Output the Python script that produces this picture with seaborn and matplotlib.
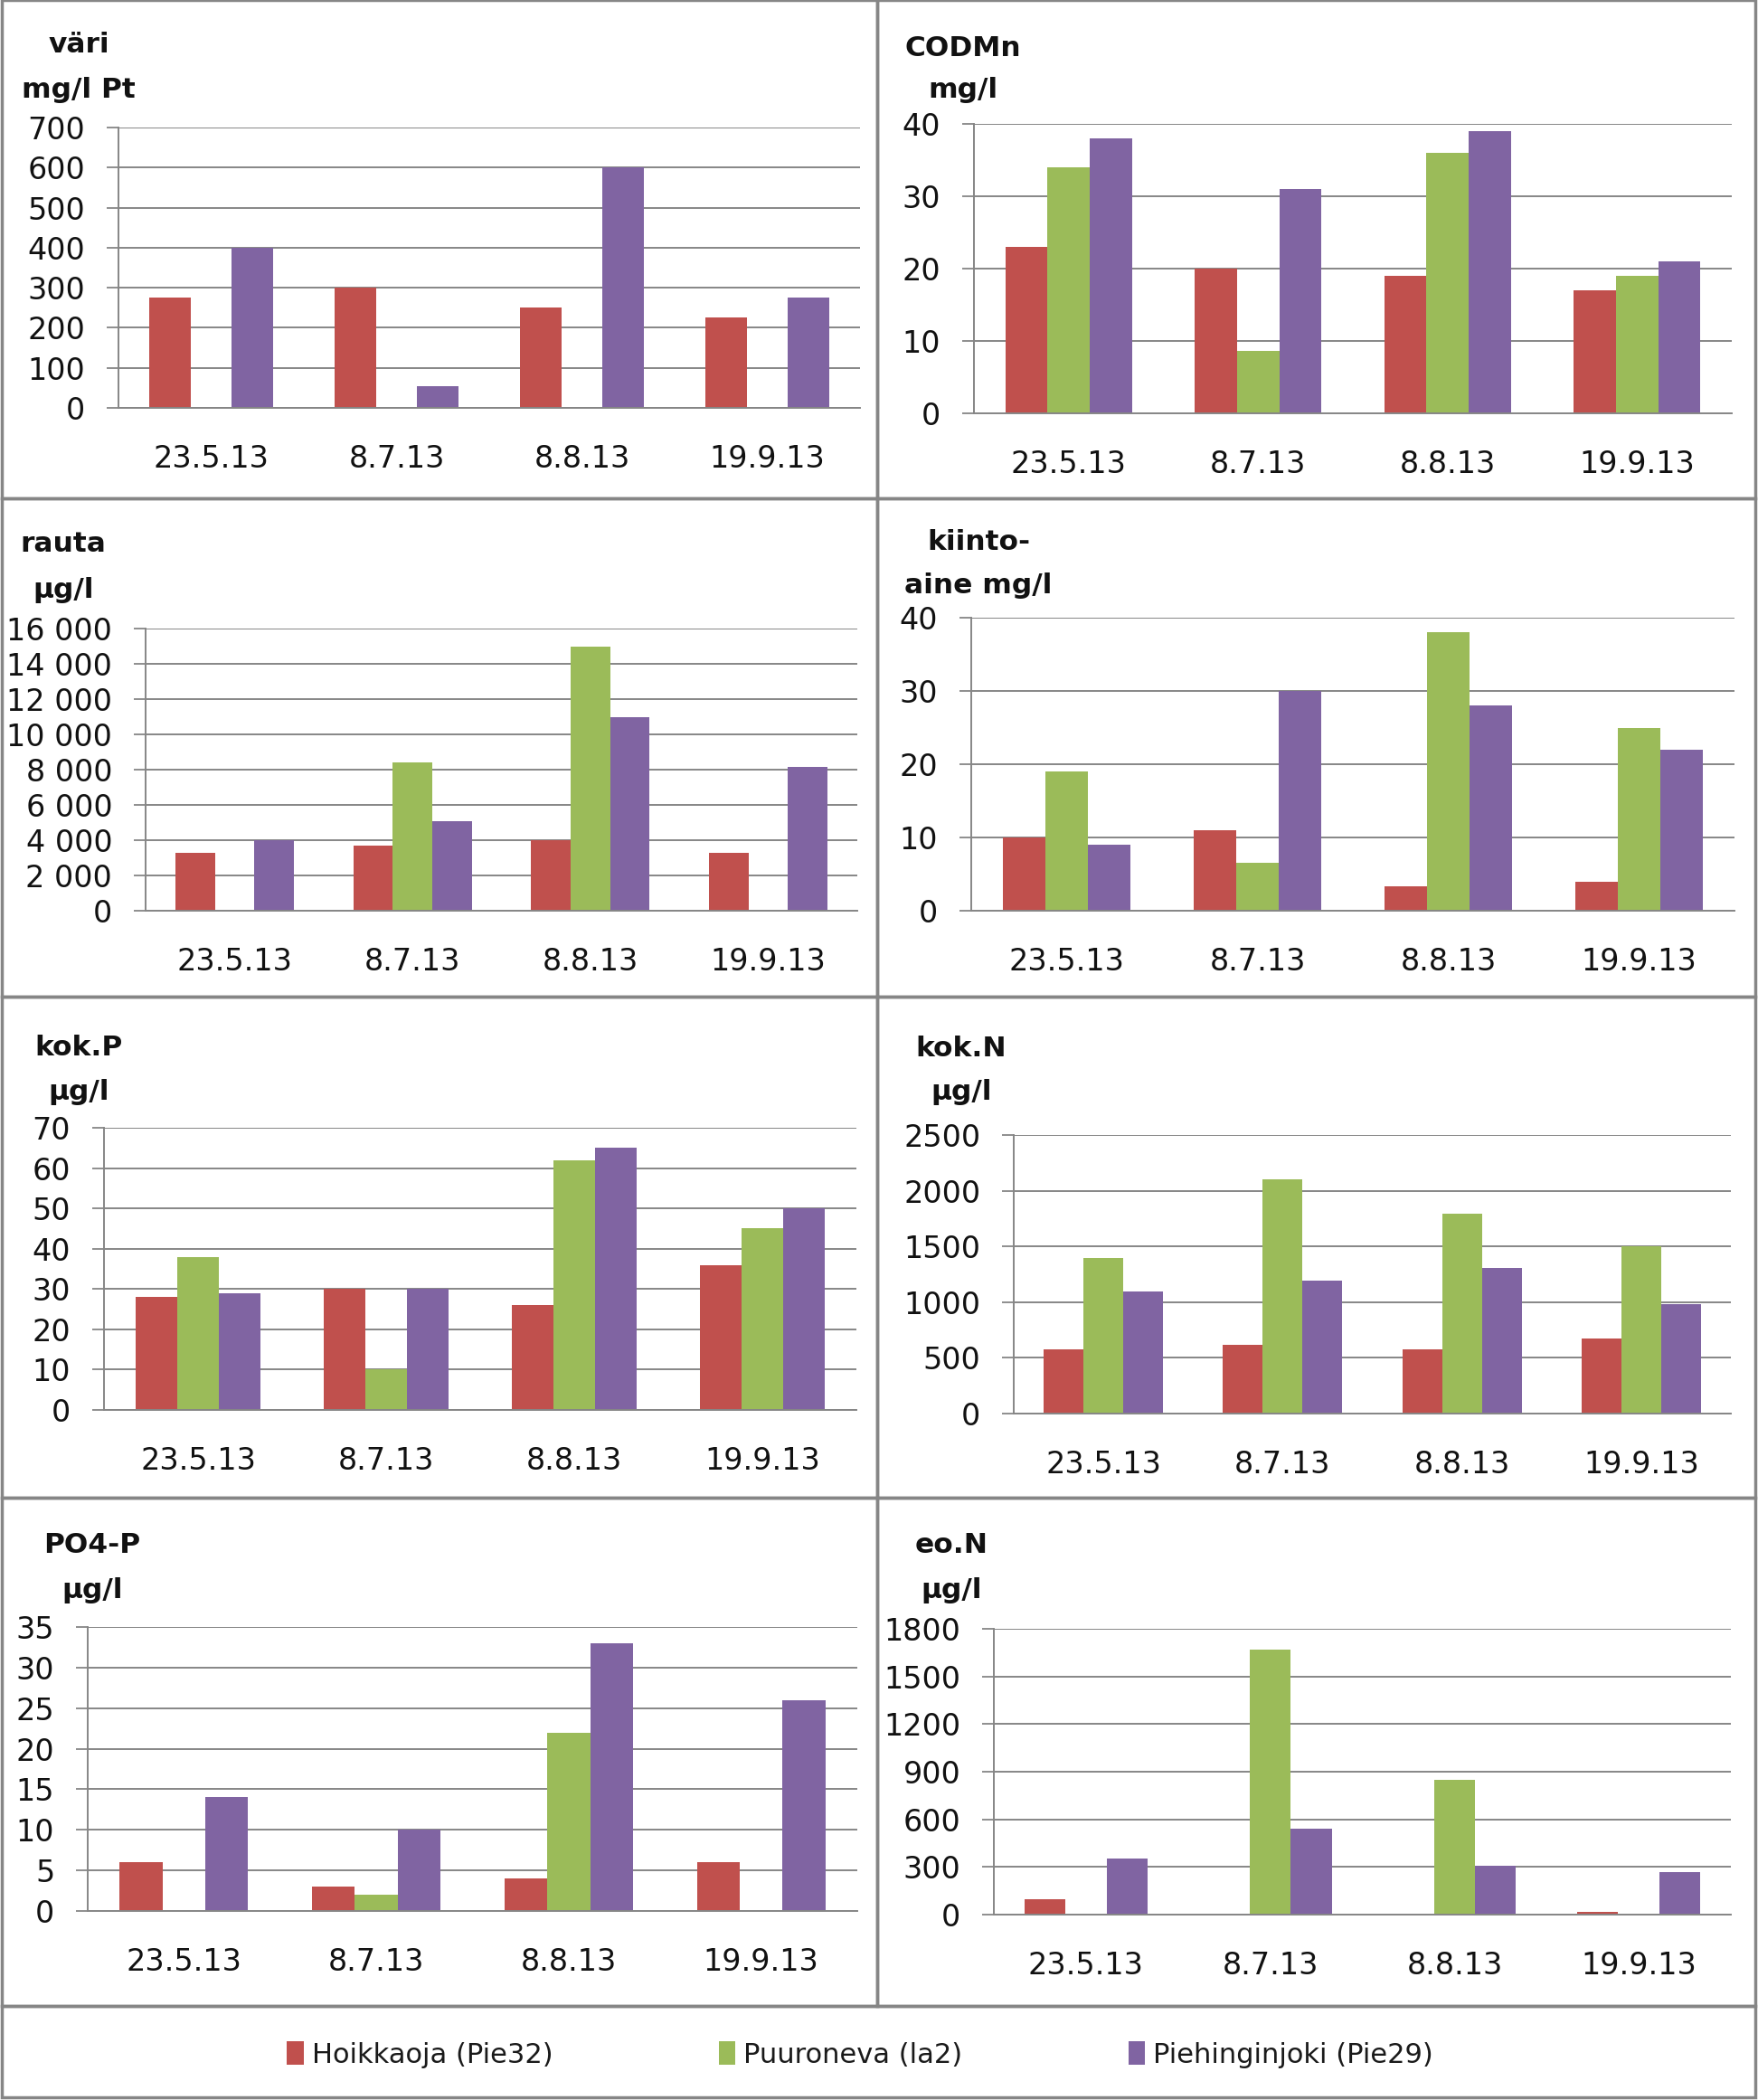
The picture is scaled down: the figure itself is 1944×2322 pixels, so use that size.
import numpy as np
import pandas as pd
import matplotlib
matplotlib.use("Agg")
import matplotlib.pyplot as plt
import seaborn as sns
from matplotlib.patches import Rectangle, Patch
from matplotlib.ticker import FuncFormatter

# ---------------- data ----------------
dates = ["23.5.13", "8.7.13", "8.8.13", "19.9.13"]
sites = ["Hoikkaoja (Pie32)", "Puuroneva (la2)", "Piehinginjoki (Pie29)"]
colors = ["#C0504D", "#9BBB59", "#8064A2"]
nan = np.nan

vari_hoikkaoja = [275, 300, 250, 225]
vari_puuroneva = [nan, nan, nan, nan]
vari_piehinginjoki = [400, 55, 600, 275]

codmn_hoikkaoja = [23, 20, 19, 17]
codmn_puuroneva = [34, 8.6, 36, 19]
codmn_piehinginjoki = [38, 31, 39, 21]

rauta_hoikkaoja = [3300, 3700, 4000, 3300]
rauta_puuroneva = [nan, 8400, 15000, nan]
rauta_piehinginjoki = [4000, 5100, 11000, 8150]

kiinto_hoikkaoja = [10, 11, 3.3, 4]
kiinto_puuroneva = [19, 6.5, 38, 25]
kiinto_piehinginjoki = [9, 30, 28, 22]

kokp_hoikkaoja = [28, 30, 26, 36]
kokp_puuroneva = [38, 10, 62, 45]
kokp_piehinginjoki = [29, 30, 65, 50]

kokn_hoikkaoja = [575, 620, 575, 670]
kokn_puuroneva = [1400, 2100, 1790, 1500]
kokn_piehinginjoki = [1095, 1190, 1305, 980]

po4_hoikkaoja = [6, 3, 4, 6]
po4_puuroneva = [nan, 2, 22, nan]
po4_piehinginjoki = [14, 10, 33, 26]

eon_hoikkaoja = [95, nan, nan, 15]
eon_puuroneva = [nan, 1670, 850, nan]
eon_piehinginjoki = [355, 540, 310, 265]

titles = [("väri", "mg/l Pt"), ("CODMn", "mg/l"), ("rauta", "µg/l"), ("kiinto-", "aine mg/l"),
          ("kok.P", "µg/l"), ("kok.N", "µg/l"), ("PO4-P", "µg/l"), ("eo.N", "µg/l")]
ymax = [700, 40, 16000, 40, 70, 2500, 35, 1800]
ystep = [100, 10, 2000, 10, 10, 500, 5, 300]
series = [
    (vari_hoikkaoja, vari_puuroneva, vari_piehinginjoki),
    (codmn_hoikkaoja, codmn_puuroneva, codmn_piehinginjoki),
    (rauta_hoikkaoja, rauta_puuroneva, rauta_piehinginjoki),
    (kiinto_hoikkaoja, kiinto_puuroneva, kiinto_piehinginjoki),
    (kokp_hoikkaoja, kokp_puuroneva, kokp_piehinginjoki),
    (kokn_hoikkaoja, kokn_puuroneva, kokn_piehinginjoki),
    (po4_hoikkaoja, po4_puuroneva, po4_piehinginjoki),
    (eon_hoikkaoja, eon_puuroneva, eon_piehinginjoki),
]

# ---------------- layout (pixels) ----------------
W, H = 1944, 2322
axes_px = [  # left, right, top, bottom
    (131, 951, 141, 451),
    (1077, 1915, 137, 457),
    (161, 948, 695, 1007),
    (1074, 1918, 683, 1007),
    (115, 947, 1247, 1559),
    (1121, 1914, 1255, 1563),
    (97, 948, 1799, 2113),
    (1099, 1914, 1801, 2117),
]
title_px = [  # center x, baseline line1, baseline line2
    (87, 58, 108),
    (1065, 62, 108),
    (70, 610, 661),
    (1082, 608, 656),
    (87, 1167, 1216),
    (1063, 1168, 1216),
    (102, 1717, 1767),
    (1052, 1717, 1767),
]

sns.set_theme(style="white")
plt.rcParams["font.family"] = ["DejaVu Sans"]
gray = "#868686"

fig = plt.figure(figsize=(W / 100, H / 100), dpi=100)
fig.patch.set_facecolor("white")

# panel frames
rows = [(0, 551), (551, 1102), (1102, 1656), (1656, 2218)]
cols = [(2, 970), (970, 1941)]
for (t, b) in rows:
    for (l, r) in cols:
        fig.add_artist(Rectangle((l / W, 1 - b / H), (r - l) / W, (b - t) / H,
                                 transform=fig.transFigure, fill=False,
                                 edgecolor=gray, lw=2.5))
fig.add_artist(Rectangle((2 / W, 1 - 2319 / H), 1939 / W, (2319 - 2218) / H,
                         transform=fig.transFigure, fill=False, edgecolor=gray, lw=2.5))


def thousands(v, pos):
    return f"{int(v):,}".replace(",", " ")


for i in range(8):
    l, r, t, b = axes_px[i]
    ax = fig.add_axes([l / W, 1 - b / H, (r - l) / W, (b - t) / H])
    vals = series[i]
    df = pd.DataFrame({
        "date": dates * 3,
        "site": sum([[s] * 4 for s in sites], []),
        "value": list(vals[0]) + list(vals[1]) + list(vals[2]),
    })
    sns.barplot(data=df, x="date", y="value", hue="site", order=dates, hue_order=sites,
                palette=colors, width=0.667, errorbar=None, saturation=1,
                linewidth=0, legend=False, ax=ax)
    ax.set_xlabel("")
    ax.set_ylabel("")
    ax.set_xlim(-0.5, 3.5)
    ax.set_ylim(0, ymax[i])
    ax.set_yticks(np.arange(0, ymax[i] + ystep[i] / 2, ystep[i]))
    if ymax[i] >= 10000:
        ax.yaxis.set_major_formatter(FuncFormatter(thousands))
    ax.set_xticks(range(4))
    ax.set_xticklabels(dates)
    ax.set_xticks([-0.5, 0.5, 1.5, 2.5, 3.5], minor=True)
    ax.tick_params(axis="x", which="major", length=0, pad=29, labelsize=24, labelcolor="#111111")
    ax.tick_params(axis="x", which="minor", length=11, width=1.3, color=gray, direction="out")
    ax.tick_params(axis="y", which="major", length=9.5, width=1.3, color=gray, pad=17,
                   labelsize=24, labelcolor="#111111", left=True)
    ax.yaxis.grid(True, color=gray, lw=1.4)
    ax.xaxis.grid(False)
    ax.set_axisbelow(True)
    for s in ["top", "right"]:
        ax.spines[s].set_visible(False)
    for s in ["left", "bottom"]:
        ax.spines[s].set_visible(True)
        ax.spines[s].set_color(gray)
        ax.spines[s].set_linewidth(1.4)
    ax.set_facecolor("white")

    cx, b1, b2 = title_px[i]
    fig.text(cx / W, 1 - b1 / H, titles[i][0], ha="center", va="baseline",
             fontsize=22.5, fontweight="bold", color="#111111")
    fig.text(cx / W, 1 - b2 / H, titles[i][1], ha="center", va="baseline",
             fontsize=22.5, fontweight="bold", color="#111111")

handles = [Patch(facecolor=c, edgecolor="none", label=s) for c, s in zip(colors, sites)]
fig.legend(handles=handles, loc="center", bbox_to_anchor=(951 / W, 1 - 2272 / H), ncol=3,
           frameon=False, fontsize=22, handlelength=0.6, handleheight=0.9,
           handletextpad=0.3, columnspacing=6.0, labelcolor="#1a1a1a")

fig.savefig("out.png", dpi=100, facecolor="white")
